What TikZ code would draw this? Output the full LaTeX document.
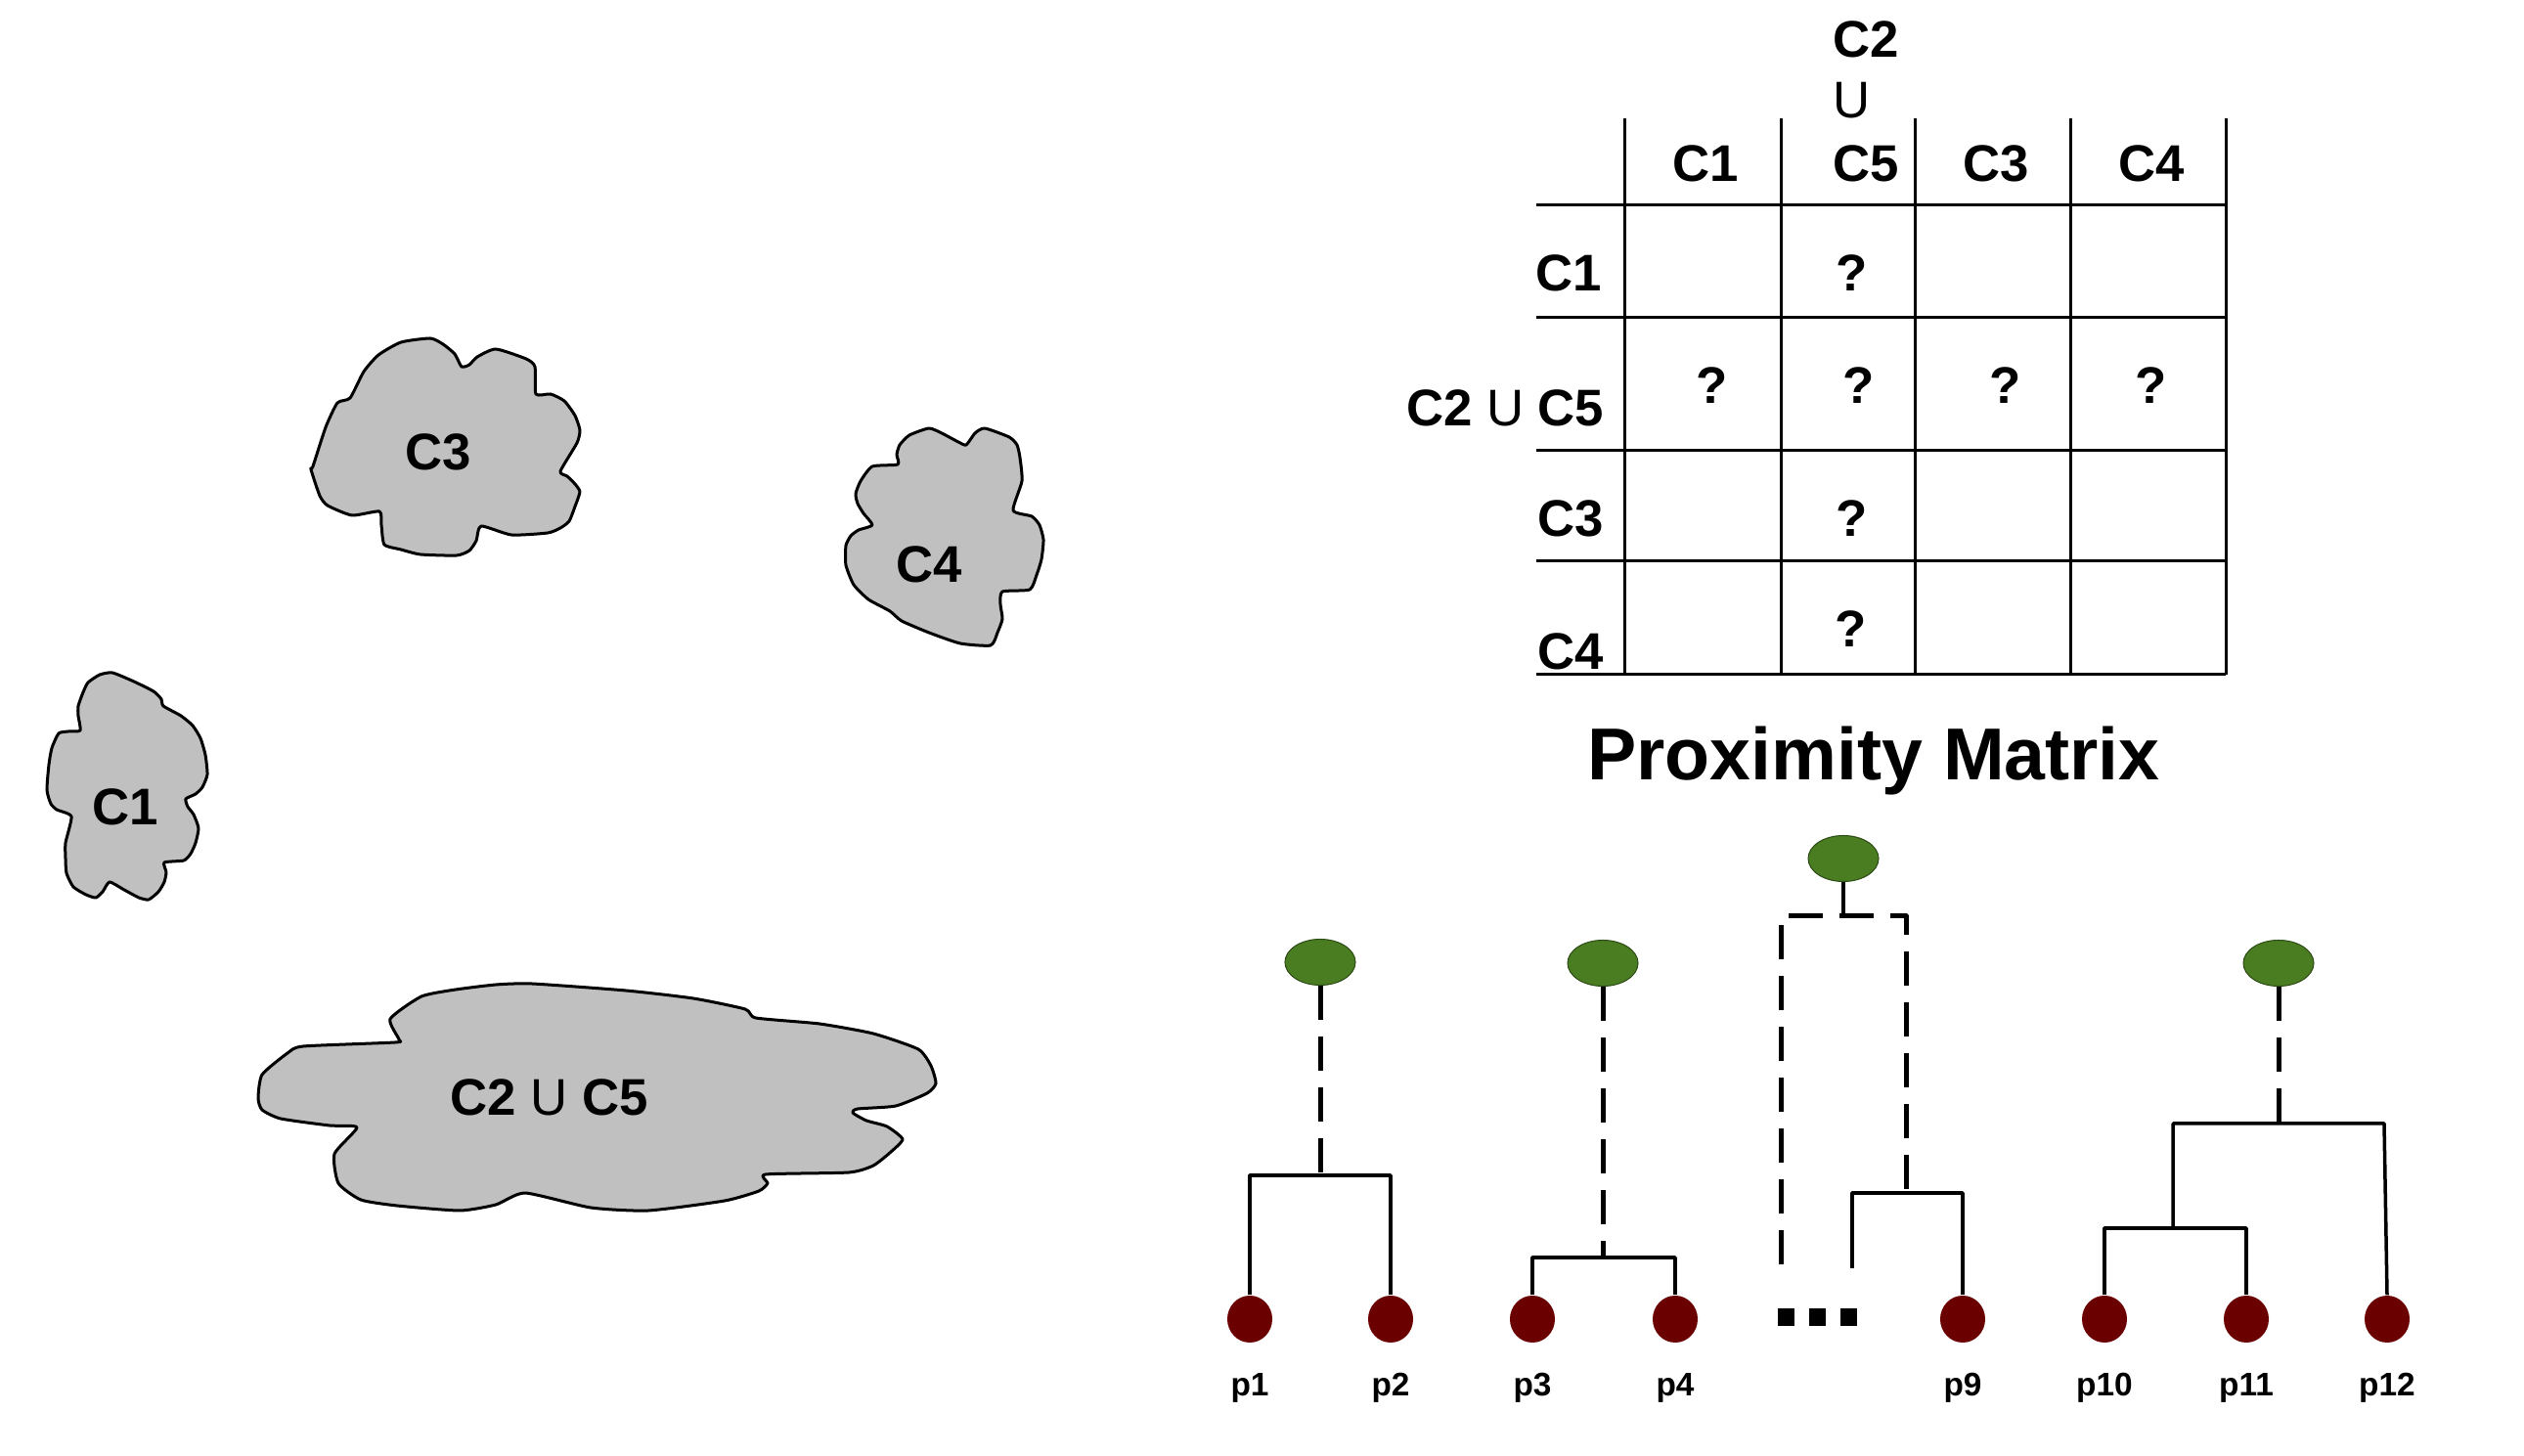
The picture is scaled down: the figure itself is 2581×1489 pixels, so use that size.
\documentclass[tikz,border=0pt]{standalone}
\usepackage{fontspec}
\setmainfont{Liberation Sans}
\usetikzlibrary{shapes.geometric}
\definecolor{blobgray}{RGB}{192,192,192}
\definecolor{rootgreen}{RGB}{74,124,34}
\definecolor{leafred}{RGB}{107,0,0}

\begin{document}
\begin{tikzpicture}[x=.01cm, y=-.01cm, line join=round,
    blob/.style={draw, fill=blobgray, line width=.03cm},
    blabel/.style={font=\fontsize{15}{18}\selectfont\bfseries},
    mlabel/.style={font=\fontsize{15}{18}\selectfont\bfseries, inner sep=0pt},
    mline/.style={line width=.03cm},
    root/.style={ellipse, draw=rootgreen!60!black, fill=rootgreen, line width=.01cm,
        minimum width=.72cm, minimum height=.47cm, inner sep=0pt},
    leaf/.style={ellipse, fill=leafred, minimum width=.46cm, minimum height=.48cm, inner sep=0pt},
    plabel/.style={font=\fontsize{9.5}{11}\selectfont\bfseries, anchor=base, inner sep=0pt},
    branch/.style={line width=.035cm},
    dashlink/.style={line width=.05cm, dash pattern=on .35cm off .17cm},
    dotbox/.style={rectangle, fill=black, minimum size=.17cm, inner sep=0pt}]
    \useasboundingbox (0, 0) rectangle (2581, 1489);
    \draw [blob] plot [smooth cycle, tension=.35] coordinates {(320, 477) (333, 437)
        (345, 412) (358, 407) (372, 380) (387, 363) (410, 350) (440, 346) (453, 352)
        (465, 362) (472, 375) (480, 373) (488, 365) (507, 357) (538, 367) (547, 375)
        (548, 403) (563, 403) (577, 410) (588, 425) (593, 440) (590, 453) (573, 482)
        (580, 487) (588, 495) (593, 503) (588, 518) (582, 533) (573, 540) (560, 545)
        (523, 547) (492, 538) (487, 553) (480, 563) (467, 568) (430, 567) (410, 562)
        (393, 557) (390, 537) (388, 523) (360, 527) (335, 517) (327, 507) (318, 480)};
    \node [blabel] (c3) at (448, 462) {C3};
    \draw [blob] plot [smooth cycle, tension=.35] coordinates {(988, 455) (997, 443)
        (1007, 438) (1032, 447) (1040, 455) (1043, 468) (1045, 492) (1036, 522)
        (1055, 528) (1063, 537) (1067, 552) (1065, 572) (1060, 588) (1053, 603)
        (1025, 605) (1023, 618) (1025, 633) (1020, 647) (1013, 660) (982, 658)
        (950, 647) (922, 635) (910, 625) (888, 613) (873, 598) (865, 578) (865, 558)
        (870, 548) (878, 542) (892, 537) (883, 525) (877, 515) (875, 505) (880, 492)
        (892, 477) (918, 475) (917, 465) (920, 455) (930, 445) (950, 438) (963, 443)
        (980, 452)};
    \node [blabel] (c4) at (950, 577) {C4};
    \draw [blob] plot [smooth cycle, tension=.35] coordinates {(115, 688) (137, 697)
        (157, 707) (165, 715) (167, 722) (185, 732) (197, 742) (205, 755) (210, 772)
        (212, 792) (207, 805) (200, 812) (190, 817) (192, 825) (198, 833) (203, 847)
        (200, 862) (195, 873) (188, 880) (168, 882) (170, 892) (168, 902) (162, 912)
        (152, 920) (142, 918) (127, 910) (112, 902) (105, 912) (98, 918) (88, 915)
        (75, 907) (68, 893) (67, 878) (67, 862) (73, 835) (58, 828) (52, 822) (48, 808)
        (50, 782) (53, 765) (60, 750) (70, 748) (82, 747) (80, 732) (80, 722) (85, 708)
        (90, 698) (102, 690)};
    \node [blabel] (c1) at (128, 825) {C1};
    \draw [blob] plot [smooth cycle, tension=.35] coordinates {(268, 1099) (294, 1077)
        (310, 1070) (404, 1066) (408, 1063) (399, 1042) (431, 1019) (466, 1012)
        (507, 1007) (544, 1006) (640, 1013) (709, 1021) (762, 1032) (773, 1041)
        (838, 1047) (893, 1057) (939, 1073) (952, 1090) (957, 1108) (948, 1118)
        (916, 1131) (877, 1134) (872, 1138) (886, 1146) (907, 1152) (923, 1165)
        (911, 1178) (893, 1192) (868, 1199) (783, 1201) (785, 1210) (776, 1218)
        (741, 1228) (663, 1238) (604, 1235) (537, 1220) (507, 1232) (470, 1238)
        (406, 1233) (369, 1227) (346, 1210) (342, 1180) (365, 1153) (337, 1151)
        (287, 1144) (268, 1135) (264, 1123)};
    \node [blabel] (c25) at (562, 1122) {C2 {\mdseries U} C5};
    \foreach \x in {1661, 1821, 1958, 2117, 2276} \draw [mline] (\x, 121) -- (\x, 690);
    \foreach \y in {210, 325, 461, 574, 690} \draw [mline] (1571, \y) -- (2276, \y);
    \node [mlabel, anchor=base] (hc1) at (1744, 186) {C1};
    \node [mlabel, anchor=base west] (hc2) at (1874, 59) {C2};
    \node [mlabel, anchor=base west, font=\fontsize{15}{18}\selectfont] (hu) at (1874, 121) {U};
    \node [mlabel, anchor=base west] (hc5) at (1874, 186) {C5};
    \node [mlabel, anchor=base] (hc3) at (2041, 186) {C3};
    \node [mlabel, anchor=base] (hc4) at (2200, 186) {C4};
    \node [mlabel, anchor=base east] (rc1) at (1639, 298) {C1};
    \node [mlabel, anchor=base east] (rc25) at (1641, 436) {C2 {\mdseries U} C5};
    \node [mlabel, anchor=base east] (rc3) at (1641, 549) {C3};
    \node [mlabel, anchor=base east] (rc4) at (1641, 685) {C4};
    \foreach \x/\y [count=\i] in {1894/298, 1751/413, 1901/413, 2051/413, 2200/413,
        1894/549, 1893/662}
    \node [mlabel, anchor=base] (q\i) at (\x, \y) {?};
    \node [font=\fontsize{21.4}{26}\selectfont\bfseries, anchor=base, inner sep=0pt]
        (title) at (1916, 798) {Proximity Matrix};
    \foreach \n/\x in {1/1278, 2/1422, 3/1567, 4/1713, 9/2007, 10/2152, 11/2297, 12/2441} {
        \node [leaf] (p\n) at (\x, 1349) {};
        \node [plabel] (lp\n) at (\x, 1427) {p\n};
    }
    \node [root] (r1) at (1350, 984) {};
    \node [root] (r2) at (1639, 985) {};
    \node [root] (r3) at (1885, 878) {};
    \node [root] (r4) at (2330, 985) {};
    \coordinate (j1) at (1350, 1202);
    \draw [dashlink] (r1.south) -- (j1);
    \draw [branch] (p1.north) |- (j1) -| (p2.north);
    \coordinate (j2) at (1639, 1286);
    \draw [dashlink] (r2.south) -- (j2);
    \draw [branch] (p3.north) |- (j2) -| (p4.north);
    \coordinate (j3) at (1885, 937);
    \coordinate (d3) at (1821, 1293);
    \coordinate (k3) at (1949, 1220);
    \coordinate (e3) at (1894, 1297);
    \draw [branch] (r3.south) -- (j3);
    \draw [dashlink] (d3) |- (j3) -| (k3);
    \draw [branch] (e3) |- (k3) -| (p9.north);
    \foreach \x [count=\i] in {1826, 1858, 1890} \node [dotbox] (dot\i) at (\x, 1347) {};
    \coordinate (j4) at (2330, 1149);
    \coordinate (k4) at (2222, 1256);
    \coordinate (m4) at (2438, 1149);
    \draw [dashlink] (r4.south) -- (j4);
    \draw [branch] (p10.north) |- (k4) -| (p11.north);
    \draw [branch] (k4) |- (m4) -- (p12.north);
\end{tikzpicture}
\end{document}
